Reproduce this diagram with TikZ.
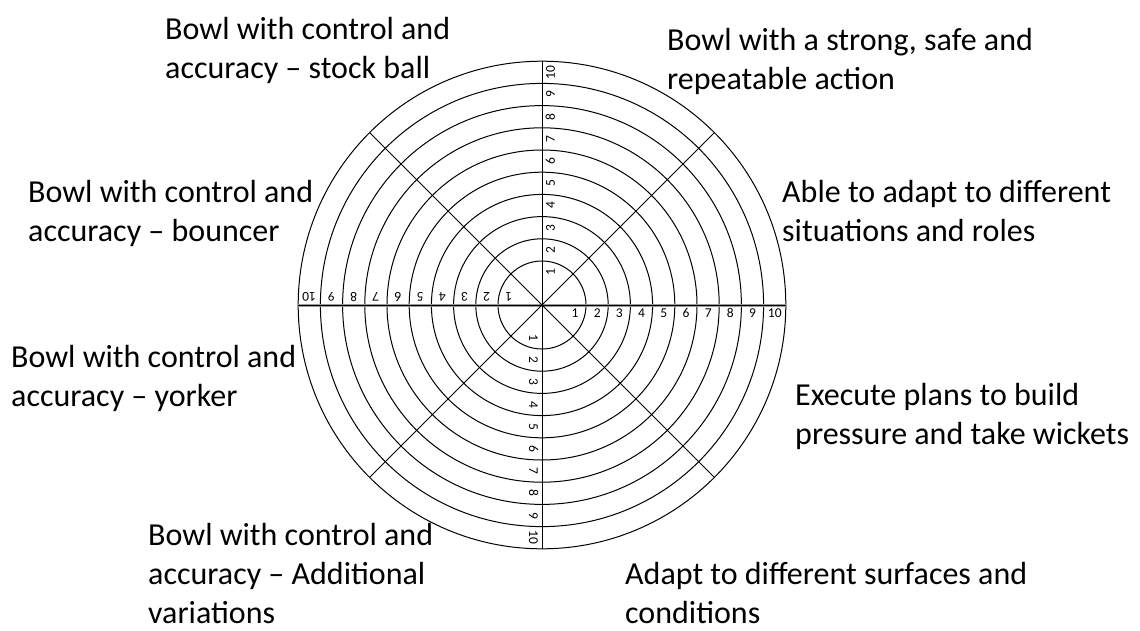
\documentclass[tikz,border=0pt]{standalone}
\usepackage{fontspec}
\setmainfont{Carlito}
\usepackage{tikz}

\newcommand{\wheeltext}[1]{\vtop{\let\\\cr\halign{##\hfil\cr#1\crcr}}}

\begin{document}
\begin{tikzpicture}[x=1pt, y=1pt,
    ring/.style={draw, line width=1pt},
    spoke/.style={draw, line width=0.9pt},
    num/.style={font=\fontsize{13.5}{13.5}\selectfont, inner sep=0pt, text height=8.5pt, text depth=0pt},
    lbl/.style={font=\fontsize{32}{39}\selectfont, inner sep=0pt, anchor=base west}]
  \useasboundingbox (-542,-325) rectangle (598,305);

  % rings 1..10
  \foreach \k in {1,...,10}
    \draw[ring] (0,0) circle ({22.2*\k+21.8});

  % axes and diagonals
  \draw[black!40, line width=3pt] (180:243.8) -- (0:243.8);
  \draw[spoke] (180:243.8) -- (0:243.8);
  \draw[spoke] (90:243.8) -- (270:243.8);
  \draw[spoke] (45:243.8) -- (225:243.8);
  \draw[spoke] (135:243.8) -- (315:243.8);

  % scale numbers on the four axes
  \foreach \a in {0,90,180,270}
    \foreach \k in {1,...,10}
      \path[rotate=\a] ({22.2*\k+10.8},-8.5) node[num, rotate=\a] (n\a-\k) {\k};

  % aspects
  \node[lbl] (stock)    at (-377,266)  {\wheeltext{Bowl with control and\\accuracy – stock ball}};
  \node[lbl] (action)   at (125,255)   {\wheeltext{Bowl with a strong, safe and\\repeatable action}};
  \node[lbl] (bouncer)  at (-514,103)  {\wheeltext{Bowl with control and\\accuracy – bouncer}};
  \node[lbl] (roles)    at (240,103)   {\wheeltext{Able to adapt to different\\situations and roles}};
  \node[lbl] (yorker)   at (-531,-62)  {\wheeltext{Bowl with control and\\accuracy – yorker}};
  \node[lbl] (plans)    at (253,-100)  {\wheeltext{Execute plans to build\\pressure and take wickets}};
  \node[lbl] (variants) at (-394,-240) {\wheeltext{Bowl with control and\\accuracy – Additional\\variations}};
  \node[lbl] (surfaces) at (83,-279)   {\wheeltext{Adapt to different surfaces and\\conditions}};
\end{tikzpicture}
\end{document}
